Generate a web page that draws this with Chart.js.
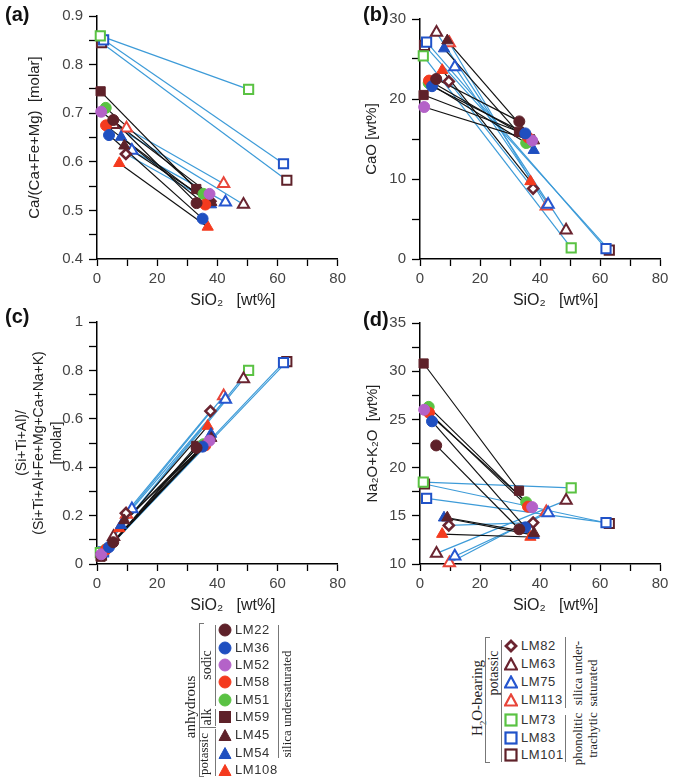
<!DOCTYPE html>
<html>
<head>
<meta charset="utf-8">
<script src="https://cdn.jsdelivr.net/npm/chart.js@4.4.1/dist/chart.umd.min.js"></script>
<style>
  body { margin: 0; background: #fff; }
  #page { position: relative; width: 679px; height: 779px; overflow: hidden; font-family: "Liberation Sans", Arial, sans-serif; }
  canvas { position: absolute; }
  .plabel { position: absolute; font-weight: bold; font-size: 20px; color: #111; }
  .vt { position: absolute; transform: translate(-50%, -50%) rotate(-90deg); white-space: nowrap;
        font-family: "Liberation Serif", "Times New Roman", serif; font-size: 14px; color: #222; }
  .ln { position: absolute; background: #777; }
  .item { position: absolute; font-size: 13px; letter-spacing: 0.6px; color: #333; line-height: 16px; }
  .item svg { position: absolute; left: -17px; top: 1px; }
</style>
</head>
<body>
<div id="page">
  <canvas id="pa" width="350" height="310" style="left:0;top:0"></canvas>
  <canvas id="pb" width="349" height="310" style="left:330px;top:0"></canvas>
  <canvas id="pc" width="350" height="310" style="left:0;top:305px"></canvas>
  <canvas id="pd" width="349" height="310" style="left:330px;top:305px"></canvas>
  <div class="plabel" style="left:5px;top:3px">(a)</div>
  <div class="plabel" style="left:363px;top:3px">(b)</div>
  <div class="plabel" style="left:5px;top:305px">(c)</div>
  <div class="plabel" style="left:363px;top:308px">(d)</div>
  <div id="legend"></div>
</div>
<script>
// echantillons : debut (liquide) -> fin
const samples = ["LM22", "LM36", "LM52", "LM58", "LM51", "LM59", "LM45", "LM54", "LM108",
                 "LM82", "LM63", "LM75", "LM113", "LM73", "LM83", "LM101"];
const hydrous = [false, false, false, false, false, false, false, false, false,
                 true, true, true, true, true, true, true];

// SiO2 [wt%]
const sio2Start = [5.4, 4.0, 1.4, 3.0, 2.9, 1.2, 9.1, 8.0, 7.4, 9.6, 5.5, 11.6, 9.8, 1.1, 2.2, 1.5];
const sio2End = [33.1, 35.1, 37.4, 36.0, 35.4, 33.0, 38.0, 37.9, 36.8, 37.7, 48.7, 42.7, 42.1, 50.4, 62.0, 63.1];

// (a) Ca/(Ca+Fe+Mg) molar
const caRatioStart = [0.686, 0.655, 0.703, 0.675, 0.711, 0.745, 0.633, 0.651, 0.597, 0.616, 0.676, 0.623, 0.669, 0.859, 0.851, 0.845];
const caRatioEnd = [0.515, 0.483, 0.534, 0.512, 0.534, 0.544, 0.517, 0.512, 0.466, 0.519, 0.512, 0.517, 0.555, 0.749, 0.596, 0.562];

// (b) CaO [wt%]
const caoStart = [22.5, 21.6, 19.0, 22.3, 22.0, 20.5, 27.3, 26.3, 23.6, 22.2, 28.3, 24.0, 27.0, 25.4, 27.1, 26.7];
const caoEnd = [17.2, 15.7, 14.8, 15.2, 14.5, 15.9, 14.8, 13.6, 9.7, 8.8, 3.6, 6.8, 6.6, 1.4, 1.3, 1.1];

// (c) (Si+Ti+Al)/(Si+Ti+Al+Fe+Mg+Ca+Na+K) molar
const siRatioStart = [0.09, 0.07, 0.04, 0.06, 0.06, 0.03, 0.18, 0.16, 0.147, 0.21, 0.113, 0.227, 0.205, 0.047, 0.05, 0.037];
const siRatioEnd = [0.48, 0.485, 0.51, 0.49, 0.495, 0.488, 0.52, 0.537, 0.57, 0.632, 0.764, 0.68, 0.694, 0.80, 0.832, 0.836];

// (d) Na2O+K2O [wt%]
const alkStart = [22.3, 24.8, 26.0, 25.7, 26.3, 30.8, 14.8, 14.8, 13.1, 14.0, 11.1, 10.8, 10.1, 18.5, 16.8, 18.3];
const alkEnd = [13.6, 13.8, 15.9, 15.95, 16.4, 17.6, 13.2, 13.0, 12.8, 14.3, 16.6, 15.3, 15.4, 17.9, 14.3, 14.2];

// style des symboles
const BROWN = "#5e2129", BLUE = "#1f4fc0", PURPLE = "#b462c8", RED = "#f43a1e", GREEN = "#5ac243";
const styles = [
  { shape: "circle", color: BROWN, open: false },
  { shape: "circle", color: BLUE, open: false },
  { shape: "circle", color: PURPLE, open: false },
  { shape: "circle", color: RED, open: false },
  { shape: "circle", color: GREEN, open: false },
  { shape: "rect", color: BROWN, open: false },
  { shape: "triangle", color: BROWN, open: false },
  { shape: "triangle", color: BLUE, open: false },
  { shape: "triangle", color: RED, open: false },
  { shape: "rectRot", color: "#6a2430", open: true },
  { shape: "triangle", color: "#6a2430", open: true },
  { shape: "triangle", color: "#2656d0", open: true },
  { shape: "triangle", color: "#e8453a", open: true },
  { shape: "rect", color: GREEN, open: true },
  { shape: "rect", color: "#2052c8", open: true },
  { shape: "rect", color: BROWN, open: true },
];
const radius = { circle: 5.5, rect: 6.5, triangle: 6.5, rectRot: 5 };

const FONT = "'Liberation Sans', Arial, sans-serif";
const TICK_COLOR = "#444";

function makeDatasets(yStart, yEnd) {
  const sets = [];
  samples.forEach((name, i) => {
    const st = styles[i];
    const pts = [
      { x: sio2Start[i], y: yStart[i] },
      { x: sio2End[i], y: yEnd[i] },
    ];
    // symboles au-dessus
    sets.push({
      label: name,
      data: pts,
      order: 0,
      showLine: false,
      pointStyle: st.shape,
      pointRadius: radius[st.shape],
      pointBackgroundColor: st.open ? "#fff" : st.color,
      pointBorderColor: st.color,
      pointBorderWidth: st.open ? (st.shape === "rectRot" ? 2.6 : 2) : 1,
      clip: false,
    });
    // segment de liaison
    sets.push({
      label: name + "-line",
      data: pts,
      order: 1,
      showLine: true,
      pointRadius: 0,
      borderColor: hydrous[i] ? "#3d9bd8" : "#111",
      borderWidth: 1.2,
      clip: false,
    });
  });
  return sets;
}

function xAxis() {
  return {
    type: "linear",
    min: 0,
    max: 80,
    ticks: {
      stepSize: 10,
      autoSkip: false,
      maxRotation: 0,
      padding: 4,
      color: TICK_COLOR,
      font: { family: FONT, size: 15 },
      callback: (v) => (v % 20 === 0 ? v : ""),
    },
    grid: { drawOnChartArea: false, drawTicks: true, tickLength: 7, tickColor: "#000", tickWidth: 1.3 },
    border: { display: true, color: "#000", width: 1.5 },
    title: {
      display: true,
      text: "\u00a0\u00a0\u00a0\u00a0\u00a0\u00a0\u00a0SiO\u2082\u00a0\u00a0\u00a0[wt%]",
      color: "#222",
      font: { family: FONT, size: 16 },
      padding: { top: 0, bottom: 0 },
    },
    afterFit: (s) => { s.height = 51; },
  };
}

function yAxis(min, max, step, labelFn, title, titlePad, width, titleSize, lh) {
  return {
    type: "linear",
    min: min,
    max: max,
    ticks: {
      stepSize: step,
      autoSkip: false,
      padding: 6,
      color: TICK_COLOR,
      font: { family: FONT, size: 15 },
      callback: labelFn,
    },
    grid: { drawOnChartArea: false, drawTicks: true, tickLength: 8, tickColor: "#000", tickWidth: 1.3 },
    border: { display: true, color: "#000", width: 1.5 },
    title: {
      display: true,
      text: title,
      color: "#222",
      font: { family: FONT, size: titleSize, lineHeight: lh },
      padding: { top: titlePad, bottom: 0 },
    },
    afterFit: (s) => { s.width = width; },
  };
}

function makePanel(id, datasets, yScale, padding) {
  return new Chart(document.getElementById(id), {
    type: "scatter",
    data: { datasets: datasets },
    options: {
      responsive: false,
      animation: false,
      layout: { padding: padding },
      plugins: { legend: { display: false }, tooltip: { enabled: false } },
      scales: { x: xAxis(), y: yScale },
    },
  });
}

const near = (v, m) => Math.abs(v / m - Math.round(v / m)) < 1e-6;

makePanel("pa", makeDatasets(caRatioStart, caRatioEnd),
  yAxis(0.4, 0.9, 0.05, (v) => (near(v, 0.1) ? v.toFixed(1) : ""),
    "Ca/(Ca+Fe+Mg)  [molar]", 26, 97, 15, 1.2),
  { top: 16, right: 11, left: 0, bottom: 0 });

makePanel("pb", makeDatasets(caoStart, caoEnd),
  yAxis(0, 30, 5, (v) => (v % 10 === 0 ? v : ""),
    "CaO [wt%]", 33, 90, 15, 1.2),
  { top: 19, right: 19, left: 0, bottom: 0 });

makePanel("pc", makeDatasets(siRatioStart, siRatioEnd),
  yAxis(0, 1, 0.1, (v) => (near(v, 0.2) ? (v === 0 || v === 1 ? String(v) : v.toFixed(1)) : ""),
    ["(Si+Ti+Al)/", "(Si+Ti+Al+Fe+Mg+Ca+Na+K)", "[molar]"], 13, 97, 14, 1.25),
  { top: 17, right: 11, left: 0, bottom: 0 });

makePanel("pd", makeDatasets(alkStart, alkEnd),
  yAxis(10, 35, 2.5, (v) => (v % 5 === 0 ? v : ""),
    "Na\u2082O+K\u2082O  [wt%]", 34, 90, 15, 1.2),
  { top: 18, right: 19, left: 0, bottom: 0 });

// legende
function markerSvg(st) {
  const c = st.color, f = st.open ? "#fff" : st.color, w = st.open ? 2.2 : 1;
  let shape;
  if (st.shape === "circle") shape = `<circle cx="7" cy="7" r="6" fill="${f}" stroke="${c}" stroke-width="${w}"/>`;
  else if (st.shape === "rect") shape = `<rect x="1.5" y="1.5" width="11" height="11" fill="${f}" stroke="${c}" stroke-width="${w}"/>`;
  else if (st.shape === "triangle") shape = `<polygon points="7,1.5 13,12.5 1,12.5" fill="${f}" stroke="${c}" stroke-width="${w}"/>`;
  else shape = `<polygon points="7,2 12,7 7,12 2,7" fill="${f}" stroke="${c}" stroke-width="2.8"/>`;
  return `<svg width="14" height="14" viewBox="0 0 14 14">${shape}</svg>`;
}

const leg = document.getElementById("legend");
let html = "";
const rows1 = [630, 647.5, 665, 682, 699.5, 717, 735, 752.5, 770];
const rows2 = [646, 664, 682, 699.5, 719.5, 737.5, 755];
samples.forEach((name, i) => {
  const top = hydrous[i] ? rows2[i - 9] : rows1[i];
  const left = hydrous[i] ? 521 : 235;
  html += `<div class="item" style="left:${left}px;top:${top - 8}px">${markerSvg(styles[i])}${name}</div>`;
});
const vt = (x, y, t, size) =>
  `<div class="vt" style="left:${x}px;top:${y}px;${size ? "font-size:" + size + "px" : ""}">${t}</div>`;
const vline = (x, y1, y2) => `<div class="ln" style="left:${x}px;top:${y1}px;width:1px;height:${y2 - y1}px"></div>`;
const hline = (x1, x2, y) => `<div class="ln" style="left:${x1}px;top:${y}px;width:${x2 - x1}px;height:1px"></div>`;

// groupe anhydre
html += vt(190, 707, "anhydrous", 15);
html += vline(199, 623, 776) + hline(199, 204, 623) + hline(199, 204, 776);
html += vt(207, 665, "sodic");
html += vt(207, 717, "alk");
html += vt(204, 754, "potassic", 13);
html += hline(199, 216, 727);
html += vline(215, 625, 706) + vline(215, 709, 726) + vline(215, 729, 776);
html += vline(278, 625, 758);
html += vt(287, 704, "silica undersaturated", 13);

// groupe hydrate
html += vt(478, 698, "H<sub style='font-size:9px'>2</sub>O-bearing", 15);
html += vline(485, 637, 762) + hline(485, 490, 637) + hline(485, 490, 762);
html += vt(494, 673, "potassic");
html += vline(501, 640, 762);
html += vline(565, 637, 708);
html += vt(578, 673, "silica under-", 13);
html += vt(593, 683, "saturated", 13);
html += vline(565, 715, 762);
html += vt(578, 739, "phonolitic", 13);
html += vt(593, 735, "trachytic", 13);
leg.innerHTML = html;
</script>
</body>
</html>
